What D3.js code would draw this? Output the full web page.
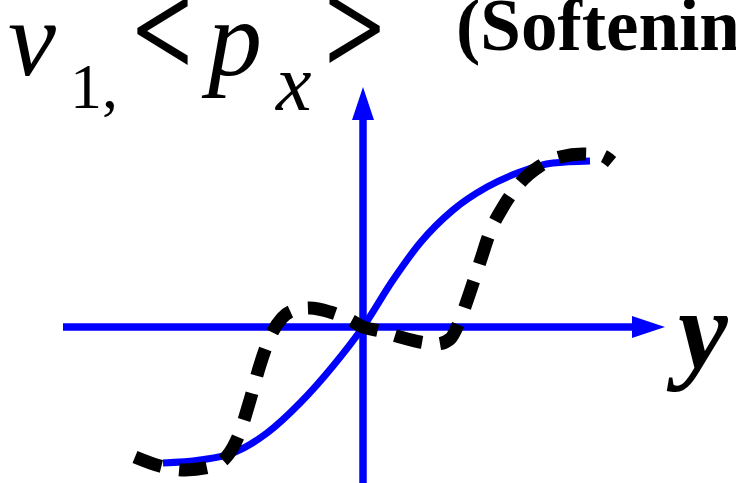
<!DOCTYPE html>
<html>
<head>
<meta charset="utf-8">
<script src="https://cdn.jsdelivr.net/npm/d3@7"></script>
<style>
  html, body { margin: 0; padding: 0; background: #fff; overflow: hidden; }
  text { font-family: "Liberation Serif", "Times New Roman", serif; fill: #000; }
</style>
</head>
<body>
<div id="chart"></div>
<script>
const WIDTH = 736;
const HEIGHT = 483;

// Blue solid curve: y (horizontal) vs v1
const blueY = [-1.0, -0.815, -0.65, -0.48, -0.315, -0.15, 0, 0.15, 0.285, 0.45, 0.62, 0.785, 0.95, 1.135];
const blueV = [-0.907, -0.887, -0.84, -0.707, -0.507, -0.26, 0, 0.313, 0.56, 0.78, 0.933, 1.033, 1.093, 1.107];

// Black dashed curve: y vs <p_x>
const dashY = [-1.14, -1.015, -0.89, -0.765, -0.675, -0.615, -0.565, -0.515, -0.465, -0.405, -0.34, -0.265, -0.165, -0.065, 0,
               0.085, 0.185, 0.285, 0.37, 0.435, 0.485, 0.535, 0.585, 0.635, 0.70, 0.785, 0.885, 0.985, 1.10, 1.185, 1.245];
const dashV = [-0.867, -0.927, -0.953, -0.933, -0.853, -0.70, -0.487, -0.253, -0.067, 0.06, 0.113, 0.127, 0.10, 0.047, 0,
               -0.027, -0.067, -0.10, -0.113, -0.08, 0.047, 0.233, 0.433, 0.633, 0.80, 0.96, 1.073, 1.133, 1.153, 1.147, 1.10];

// axis extents (data units)
const xAxisRange = [-1.5, 1.51];
const yAxisRange = [-1.1, 1.6];

window.onload = function() {

    var svg = d3.select("#chart").append("svg")
                .attr("width", WIDTH)
                .attr("height", HEIGHT);

    var x = d3.scaleLinear().domain([-1, 1]).range([163, 563]);
    var y = d3.scaleLinear().domain([-1, 1]).range([477, 177]);

    var HEAD = 33, HALF = 11;   // arrow head length / half width

    // axes
    var x0 = x(0), y0 = y(0);
    var xEnd = x(xAxisRange[1]), yEnd = y(yAxisRange[1]);

    svg.append("line")
       .attr("x1", x(xAxisRange[0])).attr("y1", y0)
       .attr("x2", xEnd - HEAD + 1).attr("y2", y0)
       .attr("stroke", "#0000ff").attr("stroke-width", 7.5);
    svg.append("path")
       .attr("d", "M" + xEnd + "," + y0 + "L" + (xEnd - HEAD) + "," + (y0 - HALF) + "L" + (xEnd - HEAD) + "," + (y0 + HALF) + "Z")
       .attr("fill", "#0000ff");

    svg.append("line")
       .attr("x1", x0).attr("y1", y(yAxisRange[0]))
       .attr("x2", x0).attr("y2", yEnd + HEAD - 1)
       .attr("stroke", "#0000ff").attr("stroke-width", 7.5);
    svg.append("path")
       .attr("d", "M" + x0 + "," + yEnd + "L" + (x0 - HALF) + "," + (yEnd + HEAD) + "L" + (x0 + HALF) + "," + (yEnd + HEAD) + "Z")
       .attr("fill", "#0000ff");

    var line = d3.line()
                 .x(function (d) { return x(d[0]); })
                 .y(function (d) { return y(d[1]); })
                 .curve(d3.curveMonotoneX);

    svg.append("path")
       .attr("d", line(d3.zip(blueY, blueV)))
       .attr("fill", "none")
       .attr("stroke", "#0000ff")
       .attr("stroke-width", 7);

    svg.append("path")
       .attr("d", line(d3.zip(dashY, dashV)))
       .attr("fill", "none")
       .attr("stroke", "#000")
       .attr("stroke-width", 13)
       .attr("stroke-dasharray", "28,18");

    // labels
    var t = svg.append("g");
    t.append("text").attr("x", 8).attr("y", 75).attr("font-size", 108).attr("font-style", "italic").text("v");
    t.append("text").attr("x", 70).attr("y", 108).attr("font-size", 64).text("1,");
    t.append("text").attr("transform", "translate(132,76) scale(1,1.25)")
     .attr("font-size", 108).attr("font-weight", "bold").text("<");
    t.append("text").attr("x", 208).attr("y", 75).attr("font-size", 108).attr("font-style", "italic").text("p");
    t.append("text").attr("x", 276).attr("y", 110).attr("font-size", 80).attr("font-style", "italic").text("x");
    t.append("text").attr("transform", "translate(324,74) scale(1,1.25)")
     .attr("font-size", 108).attr("font-weight", "bold").text(">");
    t.append("text").attr("x", 456).attr("y", 50).attr("font-size", 73).attr("font-weight", "bold").text("(Softening)");
    t.append("text").attr("x", 678).attr("y", 368).attr("font-size", 112)
     .attr("font-weight", "bold").attr("font-style", "italic").text("y");
};
</script>
</body>
</html>
